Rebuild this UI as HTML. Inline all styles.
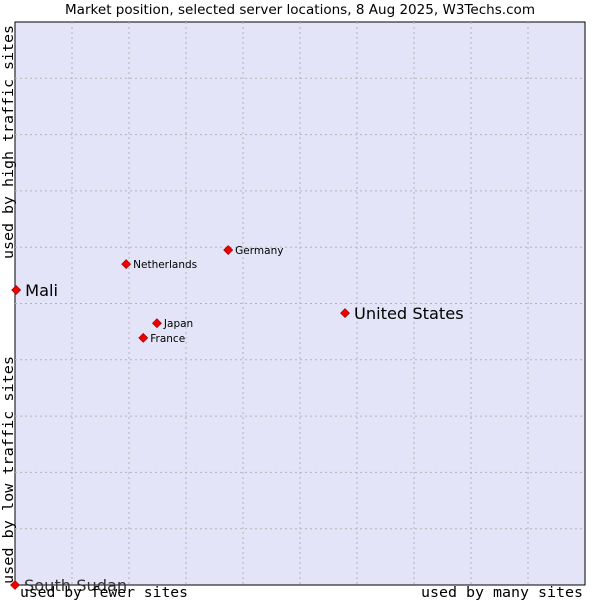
<!DOCTYPE html>
<html><head><meta charset="utf-8"><style>
body{margin:0;background:#fff;width:600px;height:600px;overflow:hidden}
</style></head><body>
<svg id="chart" width="600" height="600" xmlns="http://www.w3.org/2000/svg">
<text x="300" y="14" text-anchor="middle" font-family="DejaVu Sans, sans-serif" font-size="13" textLength="470" lengthAdjust="spacingAndGlyphs" fill="#000">Market position, selected server locations, 8 Aug 2025, W3Techs.com</text>
<rect x="15" y="22" width="570" height="563" fill="#e4e4f8" stroke="#000" stroke-width="1"/>
<g id="grid"></g>
<g id="points"></g>
<text x="20" y="597" font-family="DejaVu Sans Mono, monospace" font-size="14.5" textLength="168" lengthAdjust="spacingAndGlyphs">used by fewer sites</text>
<text x="421" y="597" font-family="DejaVu Sans Mono, monospace" font-size="14.5" textLength="162" lengthAdjust="spacingAndGlyphs">used by many sites</text>
<text transform="translate(13,259) rotate(-90)" font-family="DejaVu Sans Mono, monospace" font-size="14.5" textLength="234" lengthAdjust="spacingAndGlyphs">used by high traffic sites</text>
<text transform="translate(13,584) rotate(-90)" font-family="DejaVu Sans Mono, monospace" font-size="14.5" textLength="228" lengthAdjust="spacingAndGlyphs">used by low traffic sites</text>
</svg>
<script>
const names = ["Mali","United States","Germany","Netherlands","Japan","France","South Sudan"];
const xValues = [0.2,57.9,37.4,19.5,24.9,22.5,0];
const yValues = [52.4,48.3,59.5,57.0,46.5,43.9,0];
const bigLabel = [true,true,false,false,false,false,true];
const L=15,T=22,W=570,H=563;
const sx=v=>L+v/100*W, sy=v=>T+H-v/100*H;
const NS="http://www.w3.org/2000/svg";
const grid=document.getElementById('grid');
for(let i=1;i<10;i++){
  const v=document.createElementNS(NS,'line');
  
  
  v.setAttribute('x1',sx(i*10));v.setAttribute('x2',sx(i*10));v.setAttribute('y1',T);v.setAttribute('y2',T+H);
  v.setAttribute('stroke','#b4b4b4');v.setAttribute('stroke-dasharray','2,3');grid.appendChild(v);
  const h=document.createElementNS(NS,'line');
  
  
  h.setAttribute('y1',sy(i*10));h.setAttribute('y2',sy(i*10));h.setAttribute('x1',L);h.setAttribute('x2',L+W);
  h.setAttribute('stroke','#b4b4b4');h.setAttribute('stroke-dasharray','2,3');grid.appendChild(h);
}
const pts=document.getElementById('points');
names.forEach((n,i)=>{
  const x=sx(xValues[i]),y=sy(yValues[i]);
  const d=document.createElementNS(NS,'polygon');
  
  
  d.setAttribute('points',`${x},${y-4.5} ${x+4.5},${y} ${x},${y+4.5} ${x-4.5},${y}`);
  d.setAttribute('fill','#e00');d.setAttribute('stroke','#900');d.setAttribute('stroke-width','0.6');
  pts.appendChild(d);
  const t=document.createElementNS(NS,'text');
  
  
  t.setAttribute('x',x+(bigLabel[i]?9:7));t.setAttribute('y',y+(bigLabel[i]?6:4));
  t.setAttribute('font-family','DejaVu Sans, sans-serif');
  t.setAttribute('font-size',bigLabel[i]?'16.2':'10.5');
  if(n==="South Sudan") t.setAttribute('fill','#333');
  t.textContent=n;pts.appendChild(t);
});
</script>
</body></html>
